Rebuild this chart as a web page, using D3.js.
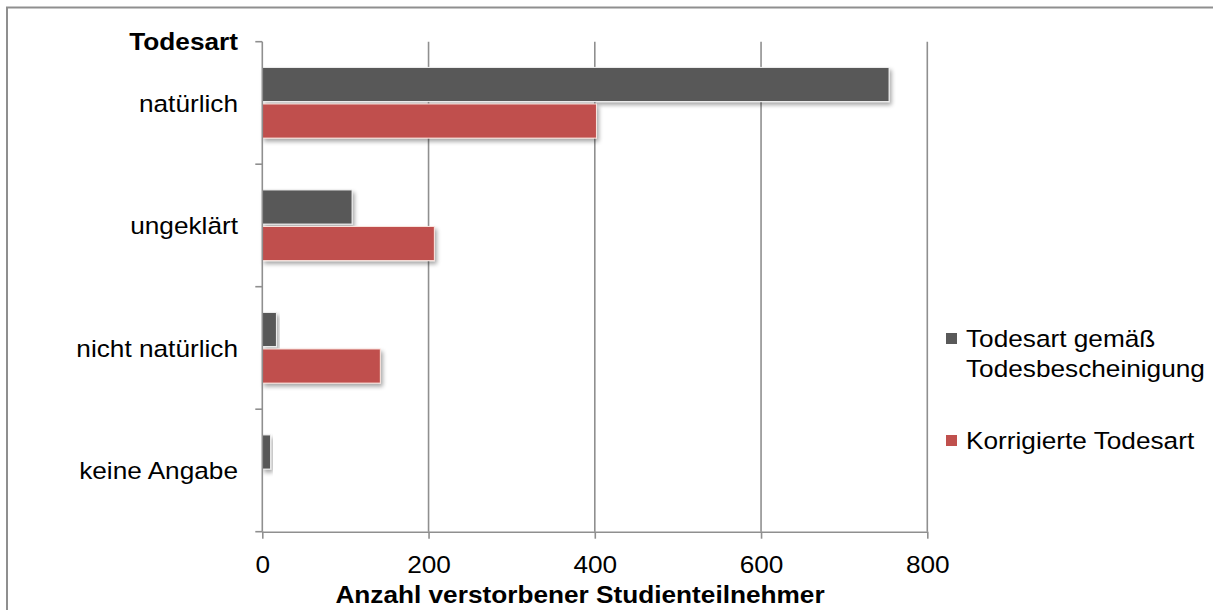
<!DOCTYPE html>
<html>
<head>
<meta charset="utf-8">
<script src="https://cdn.jsdelivr.net/npm/d3@7"></script>
<style>
  html, body { margin: 0; padding: 0; background: #fff; }
  svg { display: block; }
  text { font-family: "Liberation Sans", Arial, sans-serif; font-size: 24.5px; fill: #000;
         transform-box: fill-box; transform: scaleX(1.07); }
  text.end { transform-origin: right center; }
  text.start { transform-origin: left center; }
  text.mid { transform-origin: center center; }
</style>
</head>
<body>
<svg id="chart" width="1213" height="610"></svg>
<script>
// Cause of death among deceased study participants
const categories = ["natürlich", "ungeklärt", "nicht natürlich", "keine Angabe"];
const seriesNames = ["Todesart gemäß Todesbescheinigung", "Korrigierte Todesart"];
const certificateValues = [754, 108, 17, 10];
const correctedValues = [402, 207, 142, 0];
const xTicks = [0, 200, 400, 600, 800];
const colors = ["#595959", "#c0504d"];

const svg = d3.select("#chart");
const axisColor = "#8f8f8f";

// outer frame (top and left edges visible)
svg.append("path")
  .attr("d", "M7,610 L7,7.5 L1213,7.5")
  .attr("fill", "none").attr("stroke", axisColor).attr("stroke-width", 2);

const defs = svg.append("defs");
const f = defs.append("filter").attr("id", "shadow")
  .attr("x", "-10%").attr("y", "-30%").attr("width", "130%").attr("height", "180%");
f.append("feGaussianBlur").attr("in", "SourceAlpha").attr("stdDeviation", 2.2).attr("result", "b");
f.append("feOffset").attr("in", "b").attr("dx", 2).attr("dy", 3).attr("result", "o");
f.append("feComponentTransfer").attr("in", "o").attr("result", "s")
  .append("feFuncA").attr("type", "linear").attr("slope", 0.35);
const m = f.append("feMerge");
m.append("feMergeNode").attr("in", "s");
m.append("feMergeNode").attr("in", "SourceGraphic");

const x = d3.scaleLinear().domain([0, 800]).range([262.3, 927.3]);
const y = d3.scaleBand().domain(categories).range([41.7, 531.7]).padding(0);
const bw = y.bandwidth();
const ySub = d3.scaleBand().domain(seriesNames).range([bw * 0.21, bw * 0.787]).paddingInner(0.065);

// vertical gridlines
svg.append("g").selectAll("line")
  .data(xTicks.filter(d => d > 0))
  .join("line")
  .attr("x1", d => x(d)).attr("x2", d => x(d))
  .attr("y1", y.range()[0]).attr("y2", y.range()[1])
  .attr("stroke", axisColor).attr("stroke-width", 1.6);

// bars
const rows = categories.map((c, i) => ({ c, vals: [certificateValues[i], correctedValues[i]] }));
const groups = svg.append("g").selectAll("g")
  .data(rows).join("g")
  .attr("transform", d => `translate(0,${y(d.c)})`);
groups.selectAll("rect")
  .data(d => d.vals.map((v, k) => ({ v, k, s: seriesNames[k] })).filter(e => e.v > 0))
  .join("rect")
  .attr("x", x(0))
  .attr("y", d => ySub(d.s))
  .attr("width", d => x(d.v) - x(0))
  .attr("height", ySub.bandwidth())
  .attr("fill", d => colors[d.k])
  .attr("stroke", d => d.k === 0 ? "#f2f2f2" : "#fbe6e0")
  .attr("stroke-width", 1)
  .attr("filter", "url(#shadow)");

// x axis
const xAxis = svg.append("g")
  .attr("transform", `translate(0,${y.range()[1]})`)
  .call(d3.axisBottom(x).tickValues(xTicks).tickSize(7).tickSizeOuter(0).tickFormat(d3.format("d")));
xAxis.select(".domain").attr("stroke", axisColor).attr("stroke-width", 1.6);
xAxis.selectAll(".tick line").attr("stroke", axisColor).attr("stroke-width", 1.6);
xAxis.selectAll(".tick text").attr("class", "mid").attr("font-size", null).attr("font-family", null)
  .attr("dy", null).attr("y", 41);

// y axis line and category boundary ticks
const bounds = categories.map(c => y(c)).concat([y.range()[1]]);
svg.append("line")
  .attr("x1", x(0)).attr("x2", x(0))
  .attr("y1", y.range()[0]).attr("y2", y.range()[1])
  .attr("stroke", axisColor).attr("stroke-width", 1.6);
svg.append("g").selectAll("line")
  .data(bounds).join("line")
  .attr("x1", x(0) - 7).attr("x2", x(0))
  .attr("y1", d => d).attr("y2", d => d)
  .attr("stroke", axisColor).attr("stroke-width", 1.6);

// category labels
svg.append("g").selectAll("text")
  .data(categories).join("text")
  .attr("class", "end")
  .attr("text-anchor", "end")
  .attr("x", 238)
  .attr("y", d => y(d) + bw / 2 + 9)
  .text(d => d);

// axis titles
svg.append("text")
  .attr("class", "end").attr("text-anchor", "end")
  .attr("x", 238).attr("y", 50)
  .attr("font-weight", "bold")
  .text("Todesart");
svg.append("text")
  .attr("class", "mid").attr("text-anchor", "middle")
  .attr("x", 580).attr("y", 603)
  .attr("font-weight", "bold")
  .text("Anzahl verstorbener Studienteilnehmer");

// legend
const legendItems = [
  { color: colors[0], lines: ["Todesart gemäß", "Todesbescheinigung"], top: 333 },
  { color: colors[1], lines: ["Korrigierte Todesart"], top: 435 }
];
const lg = svg.append("g").selectAll("g").data(legendItems).join("g");
lg.append("rect")
  .attr("x", 946).attr("y", d => d.top)
  .attr("width", 11).attr("height", 11)
  .attr("fill", d => d.color);
lg.each(function(d) {
  const g = d3.select(this);
  d.lines.forEach((line, i) => {
    g.append("text")
      .attr("class", "start")
      .attr("x", 966)
      .attr("y", d.top + 14 + i * 30.5)
      .text(line);
  });
});
</script>
</body>
</html>
